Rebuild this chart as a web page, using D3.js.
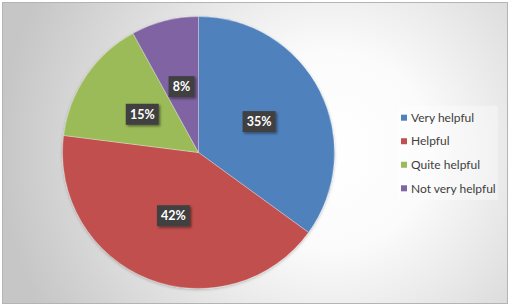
<!DOCTYPE html>
<html>
<head>
<meta charset="utf-8">
<script src="https://cdn.jsdelivr.net/npm/d3@7"></script>
<style>
  body { margin: 0; background: #fff; }
  svg { display: block; font-family: Lato, "Open Sans", sans-serif; }
</style>
</head>
<body>
<div class="vis-holder"></div>
<script>
// data
var categories = ["Very helpful", "Helpful", "Quite helpful", "Not very helpful"];
var shares = [35, 42, 15, 8];
var colors = ["#4f81bd", "#c0504d", "#9bbb59", "#8064a2"];

var width = 510;
var height = 307;
var cx = 198.5, cy = 152.5, radius = 136;

var svg = d3.select(".vis-holder")
      .append("svg")
      .attr("width", width)
      .attr("height", height);

var defs = svg.append("defs");

var bg = defs.append("radialGradient")
      .attr("id", "bg")
      .attr("gradientUnits", "userSpaceOnUse")
      .attr("cx", 330).attr("cy", 150).attr("r", 330);
bg.append("stop").attr("offset", "0%").attr("stop-color", "#ffffff");
bg.append("stop").attr("offset", "30%").attr("stop-color", "#fbfbfb");
bg.append("stop").attr("offset", "100%").attr("stop-color", "#c6c6c6");

var shadow = defs.append("filter").attr("id", "shadow")
      .attr("x", "-30%").attr("y", "-30%").attr("width", "160%").attr("height", "160%");
shadow.append("feDropShadow")
      .attr("dx", 1.5).attr("dy", 1.5).attr("stdDeviation", 1.2)
      .attr("flood-color", "#000").attr("flood-opacity", 0.45);

var pieShadow = defs.append("filter").attr("id", "pieShadow")
      .attr("x", "-10%").attr("y", "-10%").attr("width", "120%").attr("height", "120%");
pieShadow.append("feDropShadow")
      .attr("dx", 0).attr("dy", 1).attr("stdDeviation", 1.5)
      .attr("flood-color", "#000").attr("flood-opacity", 0.25);

// chart area with border
svg.append("rect")
      .attr("x", 2.5).attr("y", 2.5)
      .attr("width", 505).attr("height", 301)
      .attr("fill", "url(#bg)")
      .attr("stroke", "#b4b4b4")
      .attr("stroke-width", 1);

var color = d3.scaleOrdinal().domain(categories).range(colors);

var pie = d3.pie()
      .sort(null)
      .value(function(d, i) { return shares[i]; });

var arc = d3.arc().innerRadius(0).outerRadius(radius);

var arcs = pie(categories);

var g = svg.append("g")
      .attr("transform", "translate(" + cx + "," + cy + ")");

g.append("g")
      .attr("filter", "url(#pieShadow)")
      .selectAll("path")
      .data(arcs)
      .enter().append("path")
      .attr("d", arc)
      .attr("fill", function(d) { return color(d.data); })
      .attr("stroke", "#ffffff")
      .attr("stroke-opacity", 0.5)
      .attr("stroke-width", 0.6);

// percentage labels in dark boxes
var labels = g.selectAll(".lbl")
      .data(arcs)
      .enter().append("g")
      .attr("class", "lbl")
      .attr("transform", function(d) {
        var c = arc.centroid(d);
        return "translate(" + c[0] + "," + c[1] + ")";
      });

labels.append("rect")
      .attr("x", function(d, i) { return shares[i] < 10 ? -13 : -16.5; })
      .attr("y", -10.5)
      .attr("width", function(d, i) { return shares[i] < 10 ? 26 : 33; })
      .attr("height", 21)
      .attr("fill", "#404040")
      .attr("filter", "url(#shadow)");

labels.append("text")
      .attr("text-anchor", "middle")
      .attr("dy", "0.36em")
      .attr("fill", "#ffffff")
      .style("font-size", "12.5px")
      .style("font-weight", "bold")
      .text(function(d, i) { return shares[i] + "%"; });

// legend
var legend = svg.append("g");
legend.append("rect")
      .attr("x", 398).attr("y", 106)
      .attr("width", 100).attr("height", 94)
      .attr("fill", "#ffffff")
      .attr("fill-opacity", 0.35);

var legendY = d3.scalePoint()
      .domain(categories)
      .range([117.7, 188.3]);

var items = legend.selectAll(".item")
      .data(categories)
      .enter().append("g")
      .attr("class", "item")
      .attr("transform", function(d) { return "translate(0," + legendY(d) + ")"; });

items.append("rect")
      .attr("x", 401).attr("y", -3)
      .attr("width", 6).attr("height", 6)
      .attr("fill", function(d) { return color(d); });

items.append("text")
      .attr("x", 411)
      .attr("dy", "0.35em")
      .attr("fill", "#404040")
      .style("font-size", "12px")
      .text(function(d) { return d; });
</script>
</body>
</html>
